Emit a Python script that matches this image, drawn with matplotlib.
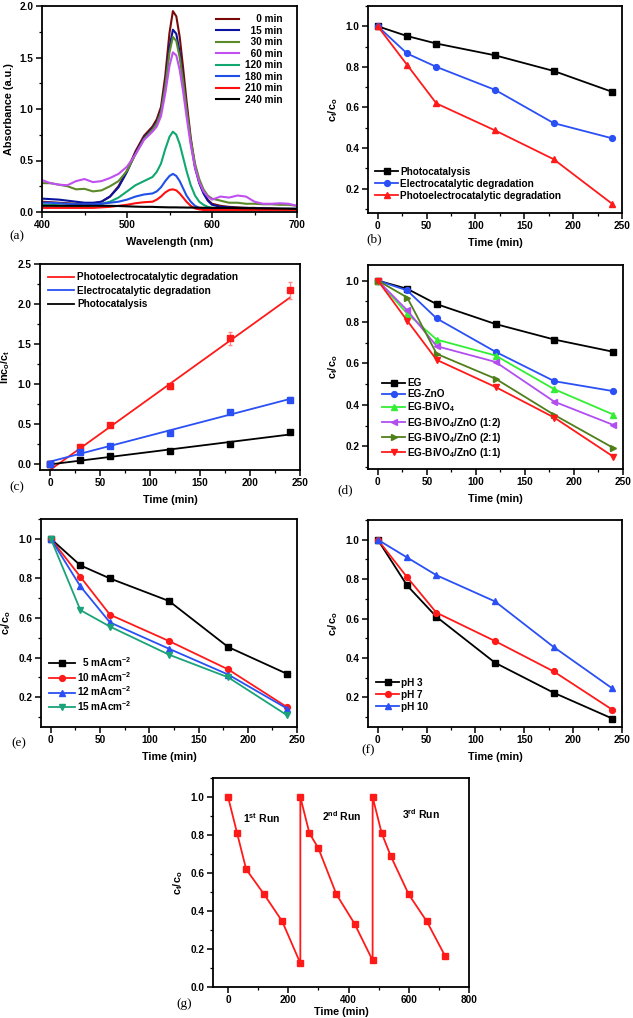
import numpy as np
import matplotlib
matplotlib.use("Agg")
import matplotlib.pyplot as plt
from matplotlib.ticker import MultipleLocator, AutoMinorLocator

plt.rcParams['font.family'] = ['Liberation Sans', 'DejaVu Sans']
plt.rcParams['font.weight'] = 'bold'
plt.rcParams['mathtext.fontset'] = 'custom'
plt.rcParams['mathtext.rm'] = 'Liberation Sans:bold'
plt.rcParams['mathtext.it'] = 'Liberation Sans:bold'
plt.rcParams['mathtext.bf'] = 'Liberation Sans:bold'
plt.rcParams['mathtext.default'] = 'rm'

# ---------------- data ----------------
# (a) UV-vis spectra
wl = [400, 410, 420, 430, 440, 450, 460, 470, 480, 490, 500, 510, 520, 530, 535, 540, 545, 550,
      554, 558, 562, 566, 570, 575, 580, 585, 590, 595, 600, 610, 620, 630, 640, 650, 660, 670,
      680, 690, 700]
abs_0 = [0.10, 0.095, 0.09, 0.085, 0.08, 0.075, 0.08, 0.10, 0.15, 0.25, 0.40, 0.59, 0.74, 0.83, 0.90, 1.02,
         1.32, 1.74, 1.95, 1.90, 1.70, 1.40, 1.08, 0.72, 0.45, 0.29, 0.19, 0.12, 0.08, 0.06, 0.05, 0.045,
         0.04, 0.04, 0.035, 0.035, 0.03, 0.03, 0.03]
abs_15 = [0.13, 0.125, 0.12, 0.11, 0.10, 0.09, 0.09, 0.10, 0.15, 0.24, 0.39, 0.57, 0.72, 0.81, 0.87, 0.98,
          1.24, 1.60, 1.77, 1.73, 1.55, 1.29, 1.00, 0.68, 0.43, 0.28, 0.18, 0.11, 0.07, 0.05, 0.045, 0.04,
          0.04, 0.035, 0.035, 0.03, 0.03, 0.03, 0.03]
abs_30 = [0.28, 0.28, 0.265, 0.25, 0.22, 0.225, 0.20, 0.21, 0.25, 0.30, 0.40, 0.56, 0.71, 0.80, 0.86, 0.97,
          1.22, 1.55, 1.70, 1.66, 1.50, 1.27, 1.00, 0.70, 0.47, 0.32, 0.22, 0.16, 0.13, 0.11, 0.09, 0.09,
          0.08, 0.08, 0.075, 0.075, 0.07, 0.07, 0.06]
abs_60 = [0.31, 0.28, 0.265, 0.26, 0.30, 0.32, 0.29, 0.30, 0.33, 0.37, 0.44, 0.56, 0.70, 0.78, 0.83, 0.93,
          1.15, 1.42, 1.55, 1.52, 1.38, 1.17, 0.93, 0.65, 0.43, 0.29, 0.20, 0.15, 0.12, 0.15, 0.14, 0.16,
          0.15, 0.10, 0.08, 0.08, 0.085, 0.08, 0.06]
abs_120 = [0.07, 0.07, 0.065, 0.06, 0.06, 0.06, 0.065, 0.08, 0.10, 0.14, 0.20, 0.26, 0.30, 0.34, 0.39, 0.47,
           0.61, 0.73, 0.78, 0.75, 0.66, 0.53, 0.40, 0.26, 0.16, 0.10, 0.07, 0.05, 0.04, 0.035, 0.035,
           0.035, 0.03, 0.03, 0.03, 0.03, 0.03, 0.03, 0.03]
abs_180 = [0.09, 0.09, 0.085, 0.08, 0.075, 0.075, 0.075, 0.08, 0.09, 0.10, 0.12, 0.15, 0.17, 0.18, 0.20,
           0.24, 0.30, 0.35, 0.37, 0.35, 0.30, 0.23, 0.16, 0.10, 0.06, 0.04, 0.03, 0.03, 0.03, 0.03, 0.03,
           0.03, 0.03, 0.03, 0.03, 0.03, 0.03, 0.03, 0.03]
abs_210 = [0.04, 0.04, 0.04, 0.04, 0.04, 0.04, 0.04, 0.045, 0.05, 0.06, 0.07, 0.085, 0.095, 0.10, 0.12,
           0.15, 0.19, 0.215, 0.22, 0.21, 0.18, 0.14, 0.10, 0.06, 0.035, 0.025, 0.02, 0.02, 0.02, 0.02,
           0.02, 0.02, 0.02, 0.02, 0.02, 0.02, 0.02, 0.02, 0.02]
abs_240 = [0.06, 0.06, 0.06, 0.06, 0.06, 0.06, 0.06, 0.06, 0.06, 0.058, 0.055, 0.052, 0.05, 0.05, 0.048,
           0.047, 0.046, 0.045, 0.045, 0.045, 0.044, 0.044, 0.043, 0.043, 0.042, 0.042, 0.041, 0.041,
           0.04, 0.04, 0.04, 0.038, 0.037, 0.036, 0.035, 0.034, 0.033, 0.032, 0.03]
spec_labels = ['0 min', '15 min', '30 min', '60 min', '120 min', '180 min', '210 min', '240 min']

# (b)
time = [0, 30, 60, 120, 180, 240]
b_photo = [1.0, 0.952, 0.915, 0.857, 0.78, 0.677]
b_electro = [1.0, 0.866, 0.80, 0.687, 0.523, 0.448]
b_photoelectro = [1.0, 0.81, 0.62, 0.487, 0.345, 0.125]
b_labels = ['Photocatalysis', 'Electrocatalytic degradation', 'Photoelectrocatalytic degradation']

# (c)
c_pec = [0.0, 0.21, 0.48, 0.97, 1.57, 2.17]
c_pec_err = [0.0, 0.03, 0.02, 0.03, 0.08, 0.11]
c_ec = [0.0, 0.14, 0.22, 0.38, 0.65, 0.80]
c_ec_err = [0.0, 0.01, 0.01, 0.02, 0.02, 0.03]
c_pc = [0.0, 0.05, 0.09, 0.16, 0.25, 0.39]
c_pc_err = [0.0, 0.01, 0.01, 0.01, 0.01, 0.02]
fit_x = [0, 240]
fit_pec = [-0.08, 2.08]
fit_ec = [0.025, 0.81]
fit_pc = [-0.01, 0.365]

# (d)
d_EG = [1.0, 0.96, 0.886, 0.79, 0.715, 0.656]
d_ZnO = [1.0, 0.952, 0.817, 0.656, 0.514, 0.466]
d_BiVO4 = [1.0, 0.84, 0.715, 0.638, 0.475, 0.353]
d_12 = [1.0, 0.856, 0.683, 0.607, 0.415, 0.303]
d_21 = [1.0, 0.918, 0.646, 0.526, 0.351, 0.192]
d_11 = [1.0, 0.806, 0.617, 0.486, 0.338, 0.15]
d_labels = ['EG', 'EG-ZnO', 'EG-BiVO$_4$', 'EG-BiVO$_4$/ZnO (1:2)', 'EG-BiVO$_4$/ZnO (2:1)',
            'EG-BiVO$_4$/ZnO (1:1)']

# (e)
e_5 = [1.0, 0.866, 0.80, 0.686, 0.454, 0.318]
e_10 = [1.0, 0.808, 0.617, 0.484, 0.341, 0.15]
e_12 = [1.0, 0.76, 0.578, 0.445, 0.315, 0.143]
e_15 = [1.0, 0.64, 0.557, 0.415, 0.301, 0.109]
e_labels = ['  5 mAcm$^{-2}$', '10 mAcm$^{-2}$', '12 mAcm$^{-2}$', '15 mAcm$^{-2}$']

# (f)
f_pH3 = [1.0, 0.768, 0.609, 0.376, 0.224, 0.093]
f_pH7 = [1.0, 0.81, 0.63, 0.486, 0.332, 0.138]
f_pH10 = [1.0, 0.91, 0.82, 0.687, 0.456, 0.246]
f_labels = ['pH 3', 'pH 7', 'pH 10']

# (g)
g_time = [0, 30, 60, 120, 180, 240, 240, 270, 300, 360, 420, 480, 480, 510, 540, 600, 660, 720]
g_ratio = [1.0, 0.81, 0.62, 0.487, 0.345, 0.125, 1.0, 0.81, 0.73, 0.487, 0.333, 0.14,
           1.0, 0.81, 0.69, 0.487, 0.345, 0.165]
g_runs = ['1$^{st}$ Run', '2$^{nd}$ Run', '3$^{rd}$ Run']
g_run_pos = [(50, 0.89), (312, 0.90), (578, 0.91)]

# ---------------- figure ----------------
W, H = 633, 1018
fig = plt.figure(figsize=(W / 100, H / 100), dpi=100)

def add_ax(l, r, t, b):
    return fig.add_axes([l / W, 1 - b / H, (r - l) / W, (b - t) / H])

TICK_FS = 7.2
LAB_FS = 7.8
LEG_FS = 7.2

def style(ax, xmaj, ymaj, xlim, ylim, xlabel, ylabel, ylabpad=4, xlabpad=5):
    ax.set_xlim(*xlim)
    ax.set_ylim(*ylim)
    ax.xaxis.set_major_locator(MultipleLocator(xmaj))
    ax.yaxis.set_major_locator(MultipleLocator(ymaj))
    ax.xaxis.set_minor_locator(AutoMinorLocator(2))
    ax.yaxis.set_minor_locator(AutoMinorLocator(2))
    ax.tick_params(which='major', direction='out', length=4, width=1.1, labelsize=TICK_FS, pad=2)
    ax.tick_params(which='minor', direction='out', length=2.2, width=0.9)
    for s in ax.spines.values():
        s.set_linewidth(1.3)
    for lab in ax.get_xticklabels() + ax.get_yticklabels():
        lab.set_fontweight('bold')
    ax.set_xlabel(xlabel, fontsize=LAB_FS, fontweight='bold', labelpad=xlabpad)
    ax.set_ylabel(ylabel, fontsize=LAB_FS, fontweight='bold', labelpad=ylabpad)

def panel_label(x, y, s):
    fig.text(x / W, 1 - y / H, s, fontsize=9.5, family='Liberation Serif', fontweight='normal',
             ha='center', va='center')

LW = 1.3
MS = 4.2

# (a)
ax = add_ax(42, 297, 6, 212)
spec_colors = ['#7a0a0a', '#0a14a0', '#5c8a2a', '#c050f0', '#10a870', '#2050e8', '#ff1010', '#000000']
spectra = [abs_0, abs_15, abs_30, abs_60, abs_120, abs_180, abs_210, abs_240]
for y, c, lab in zip(spectra, spec_colors, spec_labels):
    ax.plot(wl, y, color=c, lw=1.5, label=lab)
style(ax, 100, 0.5, (400, 700), (0, 2.0), 'Wavelength (nm)', 'Absorbance (a.u.)')
ax.xaxis.set_major_formatter(matplotlib.ticker.FormatStrFormatter('%d'))
leg = ax.legend(loc='upper right', bbox_to_anchor=(0.965, 0.99), frameon=False, fontsize=LEG_FS,
                handlelength=2.3, labelspacing=0.15, handletextpad=0.6, borderaxespad=0.2)
for t in leg.get_texts():
    t.set_fontweight('bold')
# right-align labels by padding with figure spaces
for t, lab in zip(leg.get_texts(), spec_labels):
    pad = 7 - len(lab)
    t.set_text('\u2007' * pad + lab)
panel_label(17, 236, '(a)')

# (b)
ax = add_ax(368, 622, 6, 213)
ax.plot(time, b_photo, '-s', color='#000000', lw=LW, ms=MS, label=b_labels[0])
ax.plot(time, b_electro, '-o', color='#2a50f5', lw=LW, ms=MS, label=b_labels[1])
ax.plot(time, b_photoelectro, '-^', color='#ff1a1a', lw=LW, ms=MS, label=b_labels[2])
style(ax, 50, 0.2, (-10, 250), (0.08, 1.10), 'Time (min)', 'c$_{t}$/c$_{o}$')
leg = ax.legend(loc='lower left', bbox_to_anchor=(0.0, 0.025), frameon=False, fontsize=LEG_FS,
                handlelength=2.3, labelspacing=0.2, handletextpad=0.2, borderaxespad=0.3)
panel_label(374, 239, '(b)')

# (c)
ax = add_ax(40, 300, 264, 470)
ax.plot(fit_x, fit_pec, color='#ff1a1a', lw=1.3, label=b_labels[2])
ax.plot(fit_x, fit_ec, color='#2a50f5', lw=1.3, label=b_labels[1])
ax.plot(fit_x, fit_pc, color='#000000', lw=1.3, label=b_labels[0])
ax.errorbar(time, c_pec, yerr=c_pec_err, fmt='s', color='#ff1a1a', ecolor='#ff8a8a', ms=MS,
            capsize=1.5, elinewidth=0.9)
ax.errorbar(time, c_pc, yerr=c_pc_err, fmt='s', color='#000000', ecolor='#888888', ms=MS,
            capsize=1.5, elinewidth=0.9)
ax.errorbar(time, c_ec, yerr=c_ec_err, fmt='s', color='#2a50f5', ecolor='#8aa0ff', ms=MS,
            capsize=1.5, elinewidth=0.9)
style(ax, 50, 0.5, (-10, 250), (-0.08, 2.5), 'Time (min)', 'lnc$_{o}$/c$_{t}$')
leg = ax.legend(loc='upper left', bbox_to_anchor=(0.0, 1.0), frameon=False, fontsize=LEG_FS,
                handlelength=2.6, labelspacing=0.35, handletextpad=0.3, borderaxespad=0.4)
panel_label(17, 487, '(c)')

# (d)
ax = add_ax(368, 623, 265, 469)
ax.plot(time, d_EG, '-s', color='#000000', lw=LW, ms=MS, label=d_labels[0])
ax.plot(time, d_ZnO, '-o', color='#2a50f5', lw=LW, ms=MS, label=d_labels[1])
ax.plot(time, d_BiVO4, '-^', color='#33ee33', lw=LW, ms=MS, label=d_labels[2])
ax.plot(time, d_12, '-<', color='#b24ef0', lw=LW, ms=MS, label=d_labels[3])
ax.plot(time, d_21, '->', color='#4f7f1a', lw=LW, ms=MS, label=d_labels[4])
ax.plot(time, d_11, '-v', color='#ff1a1a', lw=LW, ms=MS, label=d_labels[5])
style(ax, 50, 0.2, (-10, 250), (0.09, 1.075), 'Time (min)', 'c$_{t}$/c$_{o}$')
leg = ax.legend(loc='lower left', bbox_to_anchor=(0.025, 0.005), frameon=False, fontsize=LEG_FS,
                handlelength=2.3, labelspacing=0.12, handletextpad=0.2, borderaxespad=0.4)
panel_label(345, 490, '(d)')

# (e)
ax = add_ax(41, 297, 519, 727)
ax.plot(time, e_5, '-s', color='#000000', lw=LW, ms=MS, label=e_labels[0])
ax.plot(time, e_10, '-o', color='#ff1a1a', lw=LW, ms=MS, label=e_labels[1])
ax.plot(time, e_12, '-^', color='#2a50f5', lw=LW, ms=MS, label=e_labels[2])
ax.plot(time, e_15, '-v', color='#1aa37a', lw=LW, ms=MS, label=e_labels[3])
style(ax, 50, 0.2, (-10, 250), (0.05, 1.1), 'Time (min)', 'c$_{t}$/c$_{o}$')
leg = ax.legend(loc='lower left', bbox_to_anchor=(0.0, 0.03), frameon=False, fontsize=LEG_FS,
                handlelength=2.6, labelspacing=0.08, handletextpad=0.2, borderaxespad=0.4)
panel_label(19, 743, '(e)')

# (f)
ax = add_ax(368, 622, 520, 727)
ax.plot(time, f_pH3, '-s', color='#000000', lw=LW, ms=MS, label=f_labels[0])
ax.plot(time, f_pH7, '-o', color='#ff1a1a', lw=LW, ms=MS, label=f_labels[1])
ax.plot(time, f_pH10, '-^', color='#2a50f5', lw=LW, ms=MS, label=f_labels[2])
style(ax, 50, 0.2, (-10, 250), (0.05, 1.1), 'Time (min)', 'c$_{t}$/c$_{o}$')
leg = ax.legend(loc='lower left', bbox_to_anchor=(0.0, 0.035), frameon=False, fontsize=LEG_FS,
                handlelength=2.3, labelspacing=0.2, handletextpad=0.2, borderaxespad=0.4)
panel_label(368, 750, '(f)')

# (g)
ax = add_ax(213, 469, 778, 987)
ax.plot(g_time, g_ratio, '-s', color='#ff1a1a', lw=LW, ms=MS)
for s, (x, y) in zip(g_runs, g_run_pos):
    ax.text(x, y, s, fontsize=LEG_FS + 0.3, fontweight='bold', ha='left', va='center')
style(ax, 200, 0.2, (-50, 800), (0.0, 1.1), 'Time (min)', 'c$_{t}$/c$_{o}$', xlabpad=1.5)
panel_label(184, 1004, '(g)')

fig.savefig('out.png', dpi=100)
